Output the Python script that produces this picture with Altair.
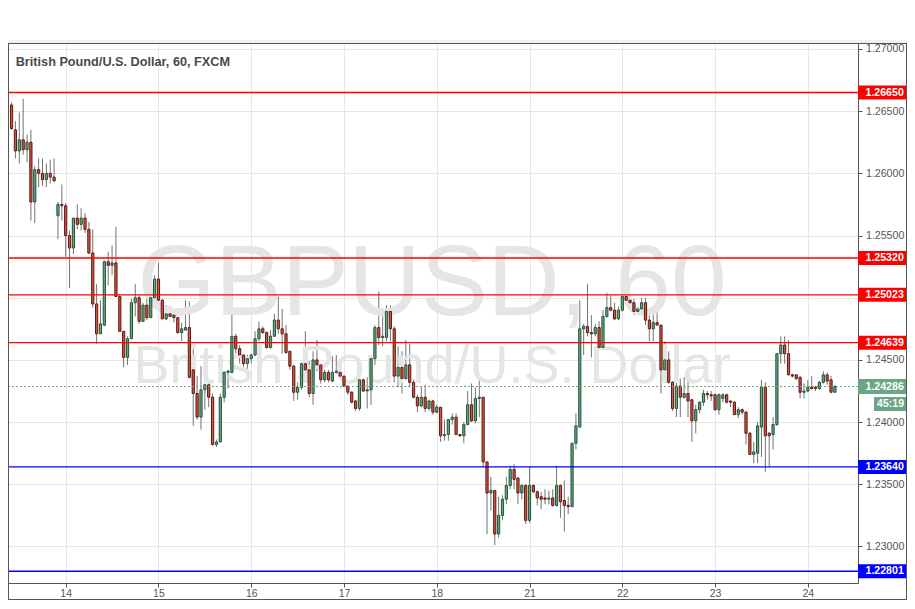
import altair as alt
import pandas as pd

# ---------------- data (hourly GBPUSD candles) ----------------
opens = [1.2655, 1.2635, 1.2618, 1.2627, 1.2619, 1.2625, 1.2577, 1.2603, 1.2600, 1.2595,
         1.2600, 1.2597, 1.2566, 1.2575, 1.2574, 1.2550, 1.2540, 1.2564, 1.2559, 1.2564,
         1.2555, 1.2536, 1.2495, 1.2471, 1.2478, 1.2529, 1.2526, 1.2528, 1.2501, 1.2473,
         1.2452, 1.2467, 1.2496, 1.2500, 1.2481, 1.2494, 1.2484, 1.2500, 1.2515, 1.2498,
         1.2483, 1.2487, 1.2486, 1.2484, 1.2472, 1.2474, 1.2476, 1.2442, 1.2423, 1.2404,
         1.2426, 1.2430, 1.2420, 1.2382, 1.2384, 1.2420, 1.2440, 1.2440, 1.2469, 1.2459,
         1.2454, 1.2447, 1.2451, 1.2454, 1.2467, 1.2475, 1.2472, 1.2460, 1.2469, 1.2482,
         1.2475, 1.2471, 1.2457, 1.2445, 1.2424, 1.2428, 1.2447, 1.2442, 1.2423, 1.2450,
         1.2446, 1.2434, 1.2440, 1.2433, 1.2440, 1.2440, 1.2437, 1.2429, 1.2424, 1.2417,
         1.2411, 1.2434, 1.2425, 1.2426, 1.2451, 1.2476, 1.2468, 1.2468, 1.2489, 1.2475,
         1.2437, 1.2444, 1.2435, 1.2446, 1.2432, 1.2420, 1.2413, 1.2420, 1.2411, 1.2417,
         1.2408, 1.2412, 1.2389, 1.2390, 1.2402, 1.2404, 1.2390, 1.2389, 1.2398, 1.2414,
         1.2401, 1.2419, 1.2420, 1.2368, 1.2343, 1.2345, 1.2310, 1.2325, 1.2338, 1.2349,
         1.2362, 1.2355, 1.2343, 1.2349, 1.2321, 1.2349, 1.2344, 1.2340, 1.2339, 1.2338,
         1.2339, 1.2333, 1.2349, 1.2337, 1.2333, 1.2332, 1.2383, 1.2396, 1.2475, 1.2477,
         1.2472, 1.2471, 1.2476, 1.2460, 1.2485, 1.2492, 1.2490, 1.2483, 1.2490, 1.2501,
         1.2498, 1.2496, 1.2489, 1.2491, 1.2496, 1.2482, 1.2475, 1.2480, 1.2478, 1.2442,
         1.2450, 1.2432, 1.2411, 1.2429, 1.2420, 1.2423, 1.2418, 1.2401, 1.2410, 1.2416,
         1.2423, 1.2422, 1.2422, 1.2410, 1.2419, 1.2422, 1.2417, 1.2416, 1.2406, 1.2410,
         1.2408, 1.2391, 1.2374, 1.2375, 1.2396, 1.2428, 1.2391, 1.2390, 1.2398, 1.2455,
         1.2462, 1.2455, 1.2438, 1.2438, 1.2436, 1.2424, 1.2425, 1.2428, 1.2428, 1.2427,
         1.2432, 1.2438, 1.2434, 1.2424]
highs = [1.2657, 1.2642, 1.2649, 1.2660, 1.2631, 1.2635, 1.2606, 1.2612, 1.2612, 1.2608,
         1.2611, 1.2612, 1.2577, 1.2591, 1.2576, 1.2554, 1.2564, 1.2575, 1.2572, 1.2568,
         1.2561, 1.2555, 1.2511, 1.2498, 1.2530, 1.2537, 1.2542, 1.2557, 1.2503, 1.2473,
         1.2469, 1.2499, 1.2511, 1.2502, 1.2496, 1.2505, 1.2502, 1.2518, 1.2528, 1.2499,
         1.2494, 1.2493, 1.2490, 1.2484, 1.2480, 1.2498, 1.2497, 1.2459, 1.2437, 1.2445,
         1.2431, 1.2431, 1.2423, 1.2386, 1.2423, 1.2441, 1.2442, 1.2514, 1.2471, 1.2462,
         1.2454, 1.2454, 1.2455, 1.2473, 1.2481, 1.2477, 1.2473, 1.2474, 1.2487, 1.2501,
         1.2491, 1.2478, 1.2457, 1.2446, 1.2432, 1.2448, 1.2473, 1.2449, 1.2457, 1.2466,
         1.2446, 1.2442, 1.2442, 1.2453, 1.2454, 1.2442, 1.2437, 1.2429, 1.2425, 1.2418,
         1.2435, 1.2435, 1.2436, 1.2453, 1.2478, 1.2505, 1.2485, 1.2494, 1.2494, 1.2477,
         1.2461, 1.2457, 1.2466, 1.2463, 1.2434, 1.2422, 1.2428, 1.2430, 1.2418, 1.2418,
         1.2414, 1.2412, 1.2402, 1.2402, 1.2407, 1.2407, 1.2390, 1.2400, 1.2425, 1.2431,
         1.2428, 1.2435, 1.2420, 1.2368, 1.2356, 1.2345, 1.2340, 1.2341, 1.2356, 1.2365,
         1.2366, 1.2356, 1.2350, 1.2350, 1.2364, 1.2350, 1.2345, 1.2344, 1.2346, 1.2345,
         1.2346, 1.2365, 1.2350, 1.2353, 1.2340, 1.2383, 1.2407, 1.2498, 1.2479, 1.2511,
         1.2486, 1.2479, 1.2481, 1.2490, 1.2504, 1.2502, 1.2496, 1.2493, 1.2502, 1.2512,
         1.2502, 1.2499, 1.2493, 1.2500, 1.2500, 1.2490, 1.2490, 1.2494, 1.2478, 1.2465,
         1.2457, 1.2433, 1.2435, 1.2435, 1.2436, 1.2433, 1.2418, 1.2414, 1.2417, 1.2426,
         1.2425, 1.2425, 1.2423, 1.2423, 1.2423, 1.2423, 1.2417, 1.2417, 1.2412, 1.2411,
         1.2409, 1.2392, 1.2384, 1.2400, 1.2434, 1.2432, 1.2392, 1.2404, 1.2455, 1.2469,
         1.2469, 1.2466, 1.2439, 1.2438, 1.2437, 1.2431, 1.2434, 1.2437, 1.2429, 1.2433,
         1.2441, 1.2440, 1.2437, 1.2430]
lows = [1.2635, 1.2612, 1.2608, 1.2615, 1.2609, 1.2562, 1.2560, 1.2589, 1.2590, 1.2589,
        1.2592, 1.2593, 1.2547, 1.2562, 1.2533, 1.2508, 1.2535, 1.2555, 1.2554, 1.2552,
        1.2535, 1.2492, 1.2463, 1.2471, 1.2477, 1.2510, 1.2518, 1.2501, 1.2473, 1.2444,
        1.2446, 1.2467, 1.2485, 1.2479, 1.2481, 1.2482, 1.2484, 1.2496, 1.2493, 1.2483,
        1.2482, 1.2485, 1.2480, 1.2471, 1.2465, 1.2474, 1.2435, 1.2397, 1.2402, 1.2394,
        1.2410, 1.2412, 1.2381, 1.2380, 1.2384, 1.2416, 1.2427, 1.2439, 1.2455, 1.2447,
        1.2444, 1.2436, 1.2447, 1.2453, 1.2465, 1.2471, 1.2459, 1.2459, 1.2469, 1.2471,
        1.2455, 1.2455, 1.2442, 1.2417, 1.2418, 1.2426, 1.2442, 1.2420, 1.2414, 1.2441,
        1.2431, 1.2432, 1.2432, 1.2432, 1.2439, 1.2436, 1.2428, 1.2422, 1.2415, 1.2409,
        1.2409, 1.2424, 1.2411, 1.2414, 1.2446, 1.2462, 1.2461, 1.2465, 1.2465, 1.2432,
        1.2428, 1.2423, 1.2434, 1.2428, 1.2419, 1.2408, 1.2412, 1.2408, 1.2409, 1.2406,
        1.2407, 1.2384, 1.2385, 1.2385, 1.2398, 1.2390, 1.2388, 1.2383, 1.2398, 1.2400,
        1.2399, 1.2404, 1.2364, 1.2310, 1.2329, 1.2301, 1.2307, 1.2321, 1.2334, 1.2346,
        1.2346, 1.2334, 1.2338, 1.2318, 1.2319, 1.2343, 1.2333, 1.2330, 1.2334, 1.2334,
        1.2332, 1.2332, 1.2323, 1.2312, 1.2326, 1.2332, 1.2378, 1.2396, 1.2454, 1.2469,
        1.2452, 1.2469, 1.2458, 1.2460, 1.2484, 1.2489, 1.2482, 1.2482, 1.2489, 1.2497,
        1.2495, 1.2486, 1.2487, 1.2490, 1.2478, 1.2465, 1.2465, 1.2478, 1.2423, 1.2442,
        1.2431, 1.2409, 1.2404, 1.2404, 1.2419, 1.2404, 1.2384, 1.2391, 1.2407, 1.2413,
        1.2418, 1.2417, 1.2409, 1.2406, 1.2416, 1.2415, 1.2412, 1.2406, 1.2403, 1.2406,
        1.2382, 1.2374, 1.2367, 1.2367, 1.2372, 1.2360, 1.2364, 1.2378, 1.2397, 1.2447,
        1.2447, 1.2438, 1.2436, 1.2434, 1.2419, 1.2419, 1.2424, 1.2426, 1.2425, 1.2426,
        1.2431, 1.2430, 1.2424, 1.2424]
closes = [1.2636, 1.2618, 1.2627, 1.2619, 1.2625, 1.2577, 1.2603, 1.2600, 1.2595, 1.2600,
          1.2597, 1.2594, 1.2575, 1.2574, 1.2550, 1.2540, 1.2564, 1.2559, 1.2564, 1.2555,
          1.2536, 1.2495, 1.2471, 1.2479, 1.2529, 1.2526, 1.2528, 1.2501, 1.2473, 1.2452,
          1.2467, 1.2496, 1.2500, 1.2481, 1.2494, 1.2484, 1.2500, 1.2515, 1.2498, 1.2483,
          1.2487, 1.2485, 1.2484, 1.2472, 1.2475, 1.2476, 1.2436, 1.2423, 1.2404, 1.2426,
          1.2430, 1.2420, 1.2382, 1.2384, 1.2420, 1.2440, 1.2441, 1.2469, 1.2459, 1.2454,
          1.2447, 1.2451, 1.2454, 1.2467, 1.2475, 1.2472, 1.2460, 1.2469, 1.2482, 1.2475,
          1.2471, 1.2456, 1.2445, 1.2424, 1.2428, 1.2447, 1.2442, 1.2423, 1.2450, 1.2446,
          1.2434, 1.2440, 1.2434, 1.2440, 1.2441, 1.2437, 1.2429, 1.2424, 1.2416, 1.2411,
          1.2434, 1.2425, 1.2426, 1.2451, 1.2476, 1.2468, 1.2469, 1.2489, 1.2475, 1.2437,
          1.2444, 1.2435, 1.2446, 1.2432, 1.2420, 1.2413, 1.2420, 1.2411, 1.2417, 1.2408,
          1.2412, 1.2389, 1.2390, 1.2402, 1.2404, 1.2390, 1.2389, 1.2398, 1.2414, 1.2401,
          1.2419, 1.2420, 1.2368, 1.2343, 1.2345, 1.2310, 1.2325, 1.2338, 1.2349, 1.2362,
          1.2354, 1.2343, 1.2349, 1.2321, 1.2349, 1.2344, 1.2339, 1.2338, 1.2338, 1.2339,
          1.2333, 1.2349, 1.2336, 1.2333, 1.2332, 1.2383, 1.2397, 1.2475, 1.2477, 1.2472,
          1.2471, 1.2476, 1.2460, 1.2485, 1.2492, 1.2490, 1.2483, 1.2490, 1.2501, 1.2498,
          1.2496, 1.2489, 1.2491, 1.2496, 1.2482, 1.2475, 1.2480, 1.2478, 1.2442, 1.2450,
          1.2432, 1.2411, 1.2429, 1.2420, 1.2423, 1.2417, 1.2401, 1.2410, 1.2416, 1.2423,
          1.2422, 1.2421, 1.2410, 1.2422, 1.2422, 1.2416, 1.2416, 1.2406, 1.2410, 1.2408,
          1.2391, 1.2374, 1.2376, 1.2397, 1.2428, 1.2389, 1.2389, 1.2398, 1.2455, 1.2462,
          1.2455, 1.2438, 1.2437, 1.2435, 1.2424, 1.2425, 1.2428, 1.2427, 1.2427, 1.2432,
          1.2438, 1.2433, 1.2424, 1.24286]

day_ticks = [14, 38, 62, 86, 110, 134, 158, 182, 206]          # hour index of each day start
day_labels = ["14", "15", "16", "17", "18", "21", "22", "23", "24"]
price_ticks = [1.230, 1.235, 1.240, 1.245, 1.250, 1.255, 1.260, 1.265, 1.270]

level_prices = [1.26650, 1.25320, 1.25023, 1.24639, 1.23640, 1.22801]
level_colors = ["#ff0000", "#ff0000", "#ff0000", "#ff0000", "#0000ff", "#0000ff"]
last_price = 1.24286
countdown = "45:19"
title_text = "British Pound/U.S. Dollar, 60, FXCM"
watermark_symbol = "GBPUSD, 60"
watermark_name = "British Pound/U.S. Dollar"

# ---------------- styling ----------------
UP, DOWN = "#6ba583", "#d75442"
UP_BORDER, DOWN_BORDER = "#225437", "#5b1a13"
WICK = "#737375"
FRAME = "#555555"
GRID = "#e6e6e6"
FONT = "Liberation Sans"
W, H = 850, 540
TOTAL_W, TOTAL_H = 899, 592
PAD = {"left": 0, "top": 35, "right": TOTAL_W - W, "bottom": TOTAL_H - 35 - H}
BOTTOM = TOTAL_H - 35  # plot-relative y of chart bottom

xscale = alt.Scale(domain=[0.37, 217.68], nice=False, zero=False)
yscale = alt.Scale(domain=[1.227063, 1.270482], nice=False, zero=False)

labels_js = "[" + ",".join("'" + d + "'" for d in day_labels) + "]"
ticks_js = "[" + ",".join(str(t) for t in day_ticks) + "]"
# axis labels hidden behind a level's price box (as on the reference)
covered = [t for t in price_ticks if any(abs(t - p) < 0.0005 for p in level_prices)]
covered_js = "[" + ",".join(str(t) for t in covered) + "]"

x_axis = alt.Axis(values=day_ticks, labelExpr=labels_js + "[indexof(" + ticks_js + ", datum.value)]",
                  grid=True, gridColor=GRID, domainColor=FRAME, tickColor=FRAME, tickSize=4,
                  labelColor="#555555", labelFont=FONT, labelFontSize=10.5, labelPadding=1,
                  labelFlush=False, labelOverlap=False, title=None)
y_axis = alt.Axis(orient="right", values=price_ticks, format=".5f", grid=True, gridColor=GRID,
                  labelExpr="indexof(" + covered_js + ", datum.value) >= 0 ? '' : datum.label",
                  domainColor=FRAME, tickColor=FRAME, tickSize=4, labelColor="#555555",
                  labelFont=FONT, labelFontSize=10.6, labelPadding=3.5, labelAlign="left",
                  labelOverlap=False, labelFlush=False, title=None)


def X(field):
    return alt.X(field, type="quantitative", scale=xscale, axis=x_axis)


def Y(field):
    return alt.Y(field, type="quantitative", scale=yscale, axis=y_axis)


candles = pd.DataFrame({"i": list(range(len(opens))), "o": opens, "h": highs,
                        "l": lows, "c": closes})
levels = pd.DataFrame({"p": level_prices, "col": level_colors,
                       "lab": [f"{p:.5f}" for p in level_prices]})
last = pd.DataFrame({"p": [last_price], "lab": [f"{last_price:.5f}"], "cd": [countdown]})
one = pd.DataFrame({"k": [0]})
texts = pd.DataFrame({"sym": [watermark_symbol], "name": [watermark_name], "title": [title_text]})

# candles first so that the shared axes come from them
wicks = alt.Chart(candles).mark_rule(color=WICK, strokeWidth=1, clip=True).encode(
    x=X("i"), y=Y("l"), y2="h:Q")

up_cond = "datum.c >= datum.o"
bodies = alt.Chart(candles).mark_bar(size=2.2, strokeWidth=1, clip=True).encode(
    x=X("i"), y=Y("o"), y2="c:Q",
    color=alt.condition(up_cond, alt.value(UP), alt.value(DOWN)),
    stroke=alt.condition(up_cond, alt.value(UP_BORDER), alt.value(DOWN_BORDER)))

gap = alt.Chart(one).mark_rect(color="#eef1f5").encode(
    x=alt.value(0), x2=alt.value(TOTAL_W), y=alt.value(-3), y2=alt.value(0))

wm1 = alt.Chart(texts).mark_text(font=FONT, fontSize=100, color="#e5e5e5", align="center",
                                 baseline="alphabetic").encode(
    x=alt.value(424), y=alt.value(272), text="sym:N")
wm2 = alt.Chart(texts).mark_text(font=FONT, fontSize=54, color="#e5e5e5", align="center",
                                 baseline="alphabetic").encode(
    x=alt.value(424), y=alt.value(340), text="name:N")

level_lines = alt.Chart(levels).mark_rule(strokeWidth=1.4, clip=True).encode(
    y=Y("p"), color=alt.Color("col:N", scale=None))

last_line = alt.Chart(last).mark_rule(color=UP, strokeWidth=1, strokeDash=[2, 2], clip=True).encode(
    y=Y("p"))

level_boxes = alt.Chart(levels).mark_rule(strokeWidth=14, strokeCap="butt").encode(
    x=alt.value(W), x2=alt.value(TOTAL_W), y=Y("p"), color=alt.Color("col:N", scale=None))
level_text = alt.Chart(levels).mark_text(font=FONT, fontSize=10.6, fontWeight="bold", color="white",
                                         align="left", baseline="middle").encode(
    x=alt.value(857.5), y=Y("p"), text="lab:N")

last_box = alt.Chart(last).mark_rule(strokeWidth=15, strokeCap="butt", color=UP).encode(
    x=alt.value(W), x2=alt.value(TOTAL_W), y=Y("p"))
last_text = alt.Chart(last).mark_text(font=FONT, fontSize=10.6, fontWeight="bold", color="white",
                                      align="left", baseline="middle").encode(
    x=alt.value(857.5), y=Y("p"), text="lab:N")
cd_box = alt.Chart(last).mark_rule(strokeWidth=14, strokeCap="butt", color=UP, yOffset=17.5).encode(
    x=alt.value(866), x2=alt.value(TOTAL_W), y=Y("p"))
cd_text = alt.Chart(last).mark_text(font=FONT, fontSize=10.6, fontWeight="bold", color="white",
                                    align="left", baseline="middle", dy=17.5).encode(
    x=alt.value(869), y=Y("p"), text="cd:N")

title = alt.Chart(texts).mark_text(font=FONT, fontSize=12.7, fontWeight="bold", color="#4a4a4a",
                                   align="left", baseline="alphabetic").encode(
    x=alt.value(7.7), y=alt.value(22.7), text="title:N")

frame_left = alt.Chart(one).mark_rule(color=FRAME, strokeWidth=1).encode(
    x=alt.value(0.5), y=alt.value(0), y2=alt.value(BOTTOM))
frame_top = alt.Chart(one).mark_rule(color=FRAME, strokeWidth=1).encode(
    x=alt.value(0), x2=alt.value(TOTAL_W), y=alt.value(0.5))
frame_right = alt.Chart(one).mark_rule(color=FRAME, strokeWidth=1).encode(
    x=alt.value(TOTAL_W - 0.5), y=alt.value(0), y2=alt.value(BOTTOM))
frame_bottom = alt.Chart(one).mark_rule(color=FRAME, strokeWidth=1).encode(
    x=alt.value(0), x2=alt.value(TOTAL_W), y=alt.value(BOTTOM - 0.5))

chart = alt.layer(
    wicks, gap, wm1, wm2, bodies, level_lines, last_line,
    level_boxes, level_text, last_box, last_text, cd_box, cd_text, title,
    frame_left, frame_top, frame_right, frame_bottom,
).properties(
    width=W, height=H,
    autosize=alt.AutoSizeParams(type="none"),
    padding=PAD,
    background="white",
).configure_view(stroke=None)

chart.save("out.html", embed_options={"renderer": "svg", "actions": False})
